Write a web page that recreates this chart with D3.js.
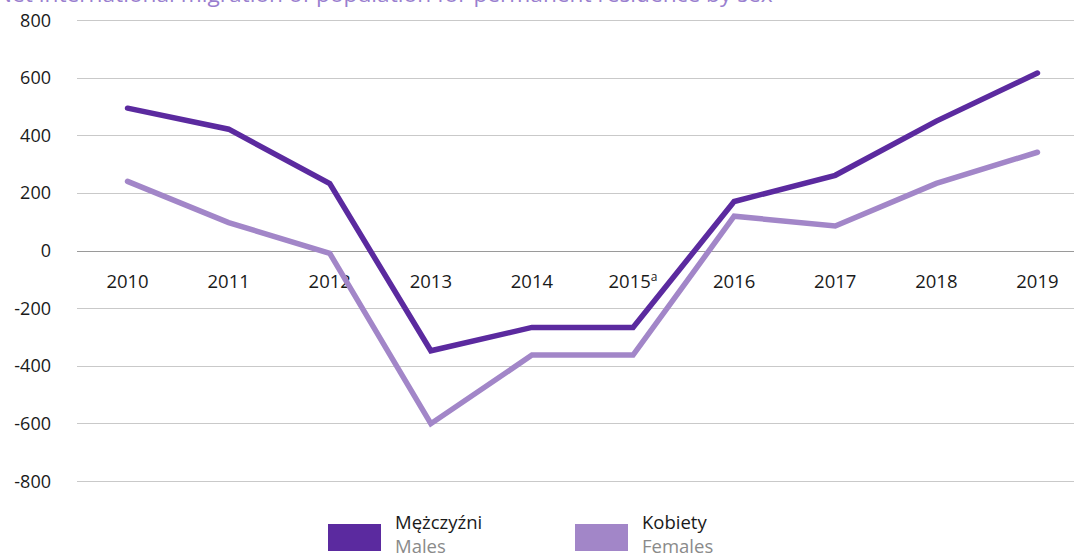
<!DOCTYPE html>
<html>
<head>
<meta charset="utf-8">
<script src="https://cdn.jsdelivr.net/npm/d3@7"></script>
<style>
  body { margin: 0; background: #fff; }
  svg { display: block; font-family: "Open Sans", sans-serif; }
</style>
</head>
<body>
<div id="chart"></div>
<script>
// chart data
var years = ["2010", "2011", "2012", "2013", "2014", "2015", "2016", "2017", "2018", "2019"];
var males = [494, 421, 232, -348, -267, -267, 170, 261, 449, 616];
var females = [240, 97, -10, -601, -363, -363, 119, 85, 233, 341];
var yTicks = [800, 600, 400, 200, 0, -200, -400, -600, -800];
var series = [
    {pl: "Mężczyźni", en: "Males", values: males, color: "#5b2a9f"},
    {pl: "Kobiety", en: "Females", values: females, color: "#a286c8"}
];

var width = 1074, height = 557;
var svg = d3.select("#chart").append("svg")
    .attr("width", width)
    .attr("height", height);

// scales
var x = d3.scaleBand()
    .domain(years)
    .range([77, 1088]);

var y = d3.scaleLinear()
    .domain([-800, 800])
    .range([481, 20]);

// title (cut off at the top like the original)
svg.append("text")
    .attr("x", -5)
    .attr("y", 1.5)
    .attr("fill", "#9a7fcf")
    .attr("font-size", 22.7)
    .text("Net international migration of population for permanent residence by sex");

// grid lines
svg.append("g").selectAll("line")
    .data(yTicks)
    .enter()
    .append("line")
    .attr("x1", 77)
    .attr("x2", width)
    .attr("y1", function(d) { return Math.round(y(d)) + 0.5; })
    .attr("y2", function(d) { return Math.round(y(d)) + 0.5; })
    .attr("stroke", function(d) { return d === 0 ? "#9a9a9a" : "#c9c9c9"; })
    .attr("stroke-width", 1);

// y labels
svg.append("g").selectAll("text")
    .data(yTicks)
    .enter()
    .append("text")
    .attr("x", 51)
    .attr("y", function(d) { return y(d) + 6.5; })
    .attr("text-anchor", "end")
    .attr("font-size", 18)
    .attr("fill", "#1a1a1a")
    .text(function(d) { return d; });

// x labels
var xl = svg.append("g").selectAll("text")
    .data(years)
    .enter()
    .append("text")
    .attr("x", function(d) { return x(d) + x.bandwidth() / 2; })
    .attr("y", 288)
    .attr("text-anchor", "middle")
    .attr("font-size", 18.5)
    .attr("fill", "#1a1a1a")
    .text(function(d) { return d; });

xl.filter(function(d) { return d === "2015"; })
    .append("tspan")
    .attr("font-size", 12)
    .attr("dy", -7)
    .text("a");

// lines
var line = d3.line()
    .x(function(d, i) { return x(years[i]) + x.bandwidth() / 2; })
    .y(function(d) { return y(d); });

svg.append("g").selectAll("path")
    .data(series.slice().reverse())
    .enter()
    .append("path")
    .attr("d", function(d) { return line(d.values); })
    .attr("fill", "none")
    .attr("stroke", function(d) { return d.color; })
    .attr("stroke-width", 5.5)
    .attr("stroke-linejoin", "miter")
    .attr("stroke-linecap", "round");

// legend
var legend = svg.append("g").selectAll("g")
    .data(series)
    .enter()
    .append("g")
    .attr("transform", function(d, i) { return "translate(" + (328 + i * 247) + ",524)"; });

legend.append("rect")
    .attr("width", 53)
    .attr("height", 27)
    .attr("fill", function(d) { return d.color; });

legend.append("text")
    .attr("x", 67)
    .attr("y", 5)
    .attr("font-size", 18.5)
    .attr("fill", "#1a1a1a")
    .text(function(d) { return d.pl; });

legend.append("text")
    .attr("x", 67)
    .attr("y", 29)
    .attr("font-size", 18.5)
    .attr("fill", "#8a8a8a")
    .text(function(d) { return d.en; });
</script>
</body>
</html>
